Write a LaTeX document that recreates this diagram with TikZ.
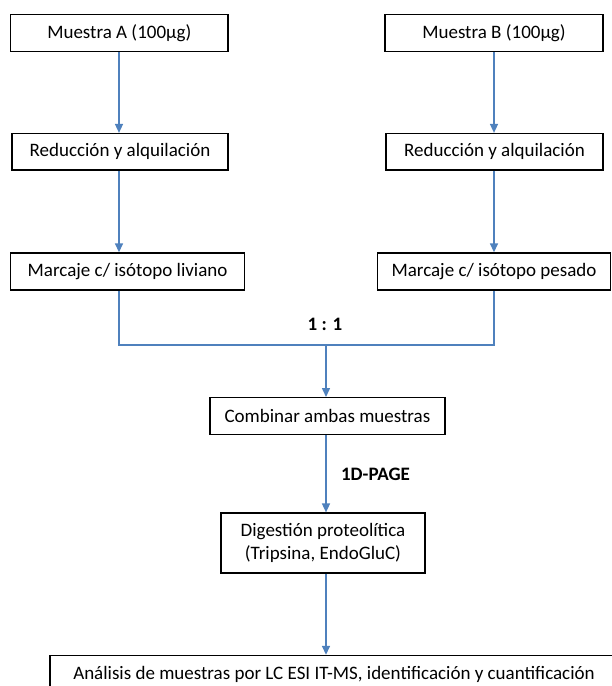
\documentclass[tikz,border=0pt]{standalone}
\usepackage{fontspec}
\setmainfont{Carlito}
\usepackage{tikz}
\usetikzlibrary{positioning,arrows.meta}
\definecolor{azul}{HTML}{4F81BD}
\tikzset{
  caja/.style={draw=black, line width=1.4pt, rectangle, inner sep=0pt, align=center,
    font=\fontsize{19}{23}\selectfont},
  flecha/.style={draw=azul, line width=1.5pt, -{Triangle[width=8pt,length=9pt]}},
  linea/.style={draw=azul, line width=1.5pt},
  etiq/.style={font=\fontsize{19}{22}\selectfont\bfseries}
}

\begin{document}
\begin{tikzpicture}[x=1pt, y=1pt]
	\useasboundingbox (0,0) rectangle (611,-686);
	% Define nodes
	\node[caja, minimum width=217.5pt, minimum height=37pt] (muA) at (119.3,-32.7) {Muestra A (100µg)};
	\node[caja, minimum width=216pt, minimum height=36.5pt, below=81pt of muA, xshift=0.7pt] (redA) {Reducción y alquilación};
	\node[caja, minimum width=234pt, minimum height=37pt, below=81.5pt of redA, xshift=7.6pt] (marcA) {Marcaje c/ isótopo liviano};
	\node[caja, minimum width=218pt, minimum height=37pt] (muB) at (494,-32.7) {Muestra B (100µg)};
	\node[caja, minimum width=217pt, minimum height=36.5pt, below=81pt of muB, xshift=0.5pt] (redB) {Reducción y alquilación};
	\node[caja, minimum width=232.5pt, minimum height=37pt, below=81.5pt of redB, xshift=-0.5pt] (marcB) {Marcaje c/ isótopo pesado};
	\node[caja, minimum width=235pt, minimum height=37pt] (comb) at (327.4,-416.2) {Combinar ambas muestras};
	\node[caja, minimum width=204pt, minimum height=60pt, below=77pt of comb, xshift=-4.4pt] (dig) {Digestión proteolítica\\(Tripsina, EndoGluC)};
	\node[caja, minimum width=568pt, minimum height=38pt, below=81pt of dig, xshift=11pt] (fin) {Análisis de muestras por LC ESI IT-MS, identificación y cuantificación};
	% Junction
	\coordinate (jA) at (119,-345);
	\coordinate (jB) at (494,-345);
	\coordinate (union) at (326,-345);
	\node[etiq] (ratio) at (325,-324) {1 : 1};
	% Edges
	\draw[flecha] (muA.south -| jA) -- (redA.north -| jA);
	\draw[flecha] (redA.south -| jA) -- (marcA.north -| jA);
	\draw[flecha] (muB.south -| jB) -- (redB.north -| jB);
	\draw[flecha] (redB.south -| jB) -- (marcB.north -| jB);
	\draw[linea] (marcA.south -| jA) -- (jA) -- (jB) -- (marcB.south -| jB);
	\draw[flecha] (union) -- (comb.north -| union);
	\draw[flecha] (comb.south -| union) -- (dig.north -| union) node[etiq, midway, anchor=west, xshift=11pt] (gel) {1D-PAGE};
	\draw[flecha] (dig.south -| union) -- (fin.north -| union);
\end{tikzpicture}
\end{document}
